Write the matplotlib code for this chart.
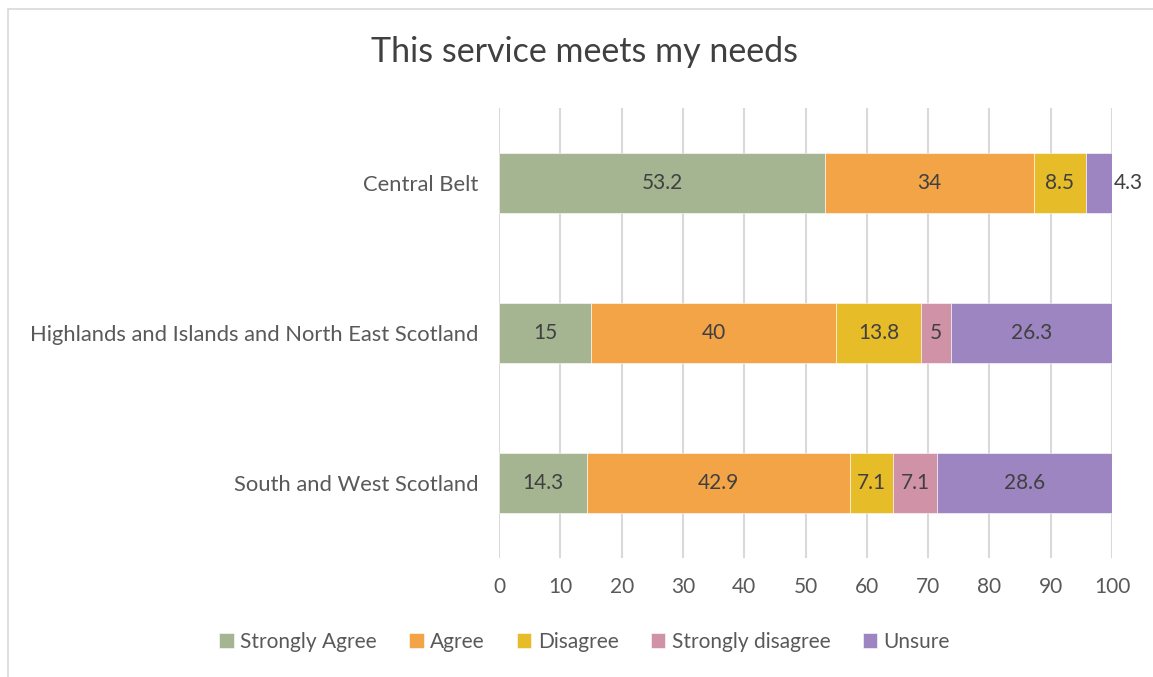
import numpy as np
import matplotlib.pyplot as plt
from matplotlib.patches import Rectangle

# survey results, percent of respondents per region
regions = ["Central Belt",
           "Highlands and Islands and North East Scotland",
           "South and West Scotland"]
responses = ["Strongly Agree", "Agree", "Disagree", "Strongly disagree", "Unsure"]
strongly_agree = [53.2, 15, 14.3]
agree = [34, 40, 42.9]
disagree = [8.5, 13.8, 7.1]
strongly_disagree = [0, 5, 7.1]
unsure = [4.3, 26.3, 28.6]

colours = ["#A5B592", "#F3A447", "#E7BC29", "#D092A7", "#9C85C0"]

plt.rcParams['font.family'] = ['Lato', 'DejaVu Sans']

fig = plt.figure(figsize=(11.53, 6.77), dpi=100)
ax = fig.add_axes([0.4328, 0.1758, 0.5317, 0.6647])

# outer chart frame
fig.patches.append(Rectangle((8 / 1153, -0.1), 1.2, 1 - 9 / 677 + 0.1,
                             transform=fig.transFigure, fill=False,
                             edgecolor="#D9D9D9", linewidth=1.2))

fs = 15
series = [strongly_agree, agree, disagree, strongly_disagree, unsure]
y = np.arange(len(regions))
left = np.zeros(len(regions))
for name, vals, col in zip(responses, series, colours):
    vals = np.array(vals, dtype=float)
    ax.barh(y, vals, left=left, height=0.395, color=col, label=name,
            edgecolor="white", linewidth=0.4, zorder=3)
    for i, v in enumerate(vals):
        if v == 0:
            continue
        if v < 5:
            # too narrow, label goes past the end of the bar
            ax.text(left[i] + v + 0.3, y[i], f"{v:g}", ha="left", va="center",
                    fontsize=fs, color="#404040", zorder=4)
        else:
            ax.text(left[i] + v / 2, y[i], f"{v:g}", ha="center", va="center",
                    fontsize=fs, color="#404040", zorder=4)
    left += vals

ax.set_xlim(0, 100)
ax.set_ylim(2.5, -0.5)
ax.set_xticks(np.arange(0, 101, 10))
ax.set_yticks(y)
ax.set_yticklabels(regions, fontsize=15.8)
ax.tick_params(axis="both", length=0, colors="#595959")
ax.tick_params(axis="x", pad=14, labelsize=fs)
ax.tick_params(axis="y", pad=15)
ax.grid(axis="x", color="#D9D9D9", linewidth=1.5, zorder=0)
for s in ax.spines.values():
    s.set_visible(False)

fig.text(0.507, 1 - 52 / 677, "This service meets my needs", ha="center",
         va="center", fontsize=24.5, color="#404040")

fig.legend(loc="center", bbox_to_anchor=(0.507, 1 - 642 / 677), ncol=5,
           frameon=False, fontsize=fs, labelcolor="#595959",
           handlelength=0.7, handleheight=0.7, handletextpad=0.3,
           columnspacing=1.55)

fig.savefig("out.png", dpi=100)
